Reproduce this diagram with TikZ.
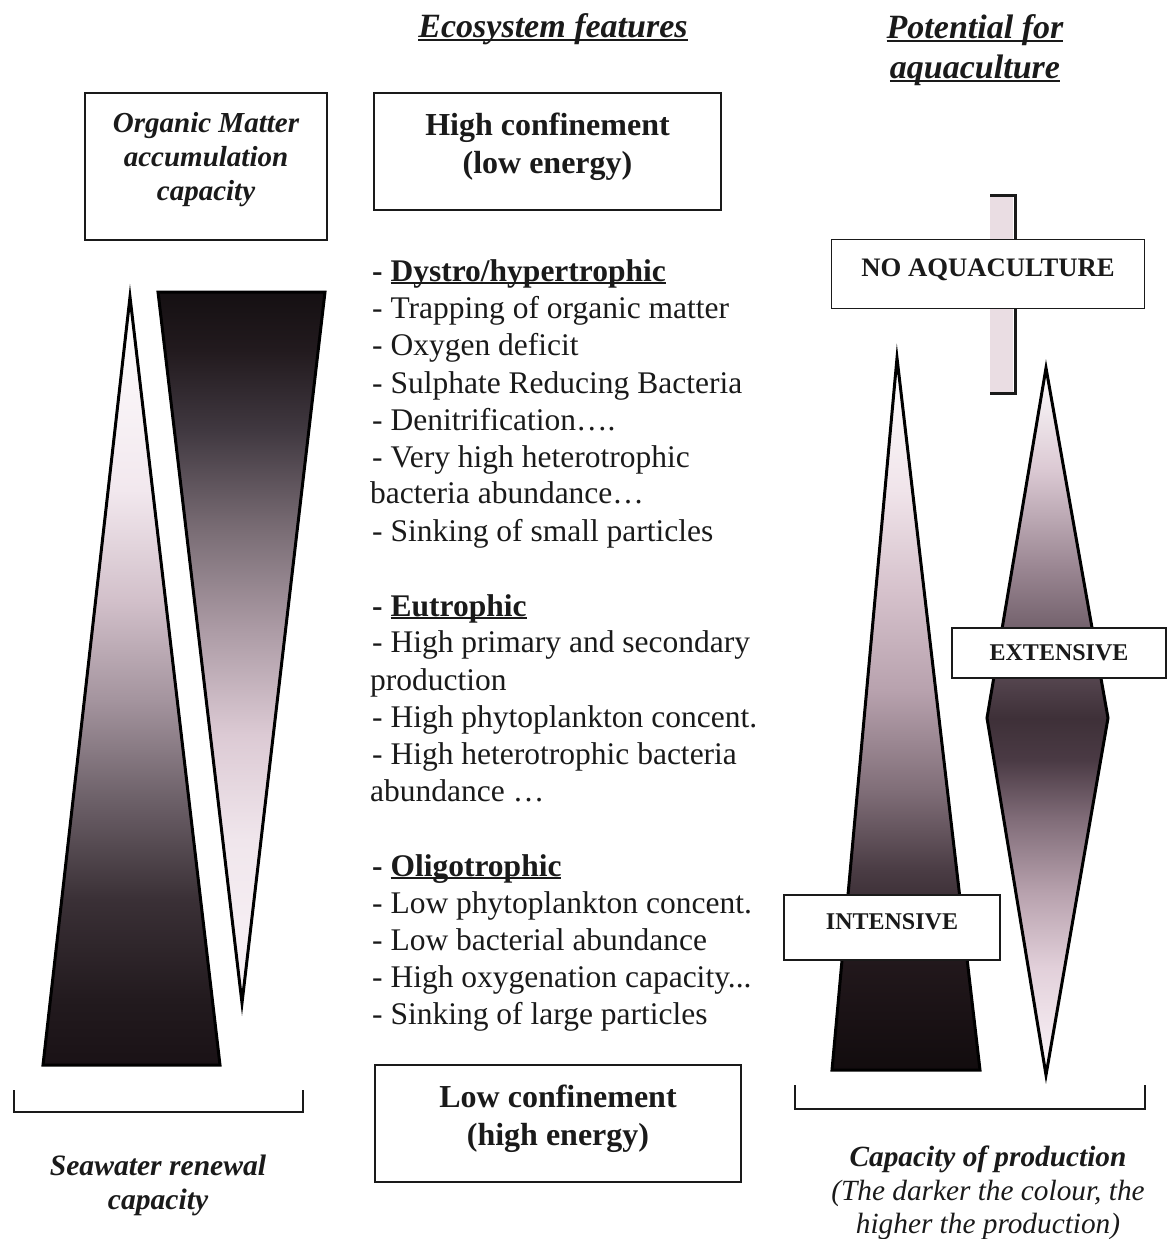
\documentclass[tikz,border=0pt]{standalone}
\usepackage{fontspec}
\setmainfont{Liberation Serif}
\newcommand{\myul}[1]{\setbox0\hbox{#1}\rlap{\rule[-0.11em]{\wd0}{0.065em}}\box0}
% colours
\definecolor{ink}{HTML}{1A1A1A}
\definecolor{strip}{HTML}{EADDE3}
% left up-triangle
\definecolor{a0}{HTML}{1A1216}\definecolor{a1}{HTML}{221A1E}\definecolor{a2}{HTML}{3A3036}
\definecolor{a3}{HTML}{6C6068}\definecolor{a4}{HTML}{A4949E}\definecolor{a5}{HTML}{D2C0CA}
\definecolor{a6}{HTML}{F2E8EE}\definecolor{a7}{HTML}{FFFFFF}
% left down-triangle
\definecolor{b0}{HTML}{FAF4F8}\definecolor{b1}{HTML}{F0E6EC}\definecolor{b2}{HTML}{DCCAD4}
\definecolor{b3}{HTML}{AD9CA6}\definecolor{b4}{HTML}{7A6D75}\definecolor{b5}{HTML}{403840}
\definecolor{b6}{HTML}{221A1E}\definecolor{b7}{HTML}{151012}
% intensive triangle
\definecolor{c0}{HTML}{120C0E}\definecolor{c1}{HTML}{22181C}\definecolor{c2}{HTML}{4A3C44}
\definecolor{c3}{HTML}{806E78}\definecolor{c4}{HTML}{B8A2AE}\definecolor{c5}{HTML}{D6C2CC}
\definecolor{c6}{HTML}{F0E4EA}\definecolor{c7}{HTML}{FFFFFF}
% extensive diamond
\definecolor{d0}{HTML}{FFFFFF}\definecolor{d1}{HTML}{F4EAF0}\definecolor{d2}{HTML}{E2D0DA}
\definecolor{d3}{HTML}{B8A2AE}\definecolor{d4}{HTML}{806C78}\definecolor{d5}{HTML}{4A3A44}
\definecolor{d6}{HTML}{3E3038}\definecolor{d7}{HTML}{5A4A54}\definecolor{d8}{HTML}{9A8692}
\definecolor{d9}{HTML}{DCCAD4}\definecolor{d10}{HTML}{FFFFFF}
\pgfdeclareverticalshading{shUpL}{100bp}{color(0bp)=(a0); color(25bp)=(a0); color(29.25bp)=(a1);
  color(35.75bp)=(a2); color(42.25bp)=(a3); color(48.75bp)=(a4); color(55.25bp)=(a5);
  color(62.45bp)=(a6); color(75bp)=(a7); color(100bp)=(a7)}
\pgfdeclareverticalshading{shDnL}{100bp}{color(0bp)=(b0); color(25bp)=(b0); color(36.45bp)=(b1);
  color(43.85bp)=(b2); color(51.1bp)=(b3); color(58.25bp)=(b4); color(65.3bp)=(b5);
  color(70.9bp)=(b6); color(75bp)=(b7); color(100bp)=(b7)}
\pgfdeclareverticalshading{shInt}{100bp}{color(0bp)=(c0); color(25bp)=(c0); color(32.7bp)=(c1);
  color(39.05bp)=(c2); color(44.65bp)=(c3); color(51.7bp)=(c4); color(58.7bp)=(c5);
  color(65.75bp)=(c6); color(75bp)=(c7); color(100bp)=(c7)}
\pgfdeclareverticalshading{shExt}{100bp}{color(0bp)=(d0); color(25bp)=(d0); color(27.5bp)=(d1);
  color(32.55bp)=(d2); color(37.85bp)=(d3); color(43.15bp)=(d4); color(47.3bp)=(d5);
  color(50.25bp)=(d6); color(53.8bp)=(d7); color(60.85bp)=(d8); color(67.95bp)=(d9);
  color(75bp)=(d10); color(100bp)=(d10)}
\begin{document}
\begin{tikzpicture}[x=1pt,y=-1pt,
  every node/.style={text=ink},
  boxed/.style={draw=ink, line width=1.4pt, fill=white, inner sep=0pt},
  boxtext/.style={align=center, inner sep=0pt},
  outl/.style={draw=black, line width=3pt, line join=miter, miter limit=25},
  listtxt/.style={anchor=base west, inner sep=0pt, font=\fontsize{31.5}{37.2}\selectfont},
  brk/.style={draw=ink, line width=2pt}]
\useasboundingbox (0,0) rectangle (1168,1239);
% ---- titles
\node[font=\fontsize{34}{40}\selectfont\bfseries\itshape] (t1) at (553,29) {\myul{Ecosystem features}};
\node[align=center, font=\fontsize{34}{40}\selectfont\bfseries\itshape] (t2) at (975,50)
  {\myul{Potential for}\\ \myul{aquaculture}};
% ---- left boxes
\node[boxed, minimum width=242pt, minimum height=147pt] (om) at (206,166.5) {};
\node[boxtext, font=\fontsize{29}{34}\selectfont\bfseries\itshape] (omt) at ([yshift=7pt]om.center)
  {Organic Matter\\ accumulation\\ capacity};
\node[boxed, minimum width=347pt, minimum height=117pt] (hc) at (547.5,151.5) {};
\node[boxtext, font=\fontsize{32}{38}\selectfont\bfseries] (hct) at ([yshift=5pt]hc.center)
  {High confinement\\ (low energy)};
\node[boxed, minimum width=366pt, minimum height=117pt] (lc) at (558,1123.5) {};
\node[boxtext, font=\fontsize{32}{38}\selectfont\bfseries] (lct) at ([yshift=5pt]lc.center)
  {Low confinement\\ (high energy)};
% ---- left triangles
\shade[shading=shUpL] (43,1065) -- (130,297) -- (220,1065) -- cycle;
\path[outl] (43,1065) -- (130,297) -- (220,1065) -- cycle;
\shade[shading=shDnL] (158,292) -- (325,292) -- (242,1003) -- cycle;
\path[outl] (158,292) -- (325,292) -- (242,1003) -- cycle;
% ---- left bracket
\coordinate (lb1) at (14,1090);
\coordinate (lb2) at (303,1090);
\draw[brk] (lb1) -- (14,1112) -- (303,1112) -- (lb2);
\node[align=center, font=\fontsize{29.6}{34}\selectfont\bfseries\itshape] (sw) at (158,1185)
  {Seawater renewal\\ capacity};
% ---- list
\node[listtxt] (l1) at (372,281) {\bfseries - \myul{Dystro/hypertrophic}};
\node[listtxt] (l2) at (372,318) {- Trapping of organic matter};
\node[listtxt] (l3) at (372,355) {- Oxygen deficit};
\node[listtxt] (l4) at (372,393) {- Sulphate Reducing Bacteria};
\node[listtxt] (l5) at (372,430) {- Denitrification….};
\node[listtxt] (l6) at (372,467) {- Very high heterotrophic};
\node[listtxt] (l7) at (370,503) {bacteria abundance…};
\node[listtxt] (l8) at (372,541) {- Sinking of small particles};
\node[listtxt] (l9) at (372,616) {\bfseries - \myul{Eutrophic}};
\node[listtxt] (l10) at (372,652) {- High primary and secondary};
\node[listtxt] (l11) at (370,690) {production};
\node[listtxt] (l12) at (372,727) {- High phytoplankton concent.};
\node[listtxt] (l13) at (372,764) {- High heterotrophic bacteria};
\node[listtxt] (l14) at (370,801) {abundance …};
\node[listtxt] (l15) at (372,876) {\bfseries - \myul{Oligotrophic}};
\node[listtxt] (l16) at (372,913) {- Low phytoplankton concent.};
\node[listtxt] (l17) at (372,950) {- Low bacterial abundance};
\node[listtxt] (l18) at (372,987) {- High oxygenation capacity...};
\node[listtxt] (l19) at (372,1024) {- Sinking of large particles};
% ---- right side: no-aquaculture bracket
\fill[strip] (990,195) rectangle (1013,393);
\coordinate (nb1) at (990,195);
\coordinate (nb2) at (990,393);
\draw[draw=ink, line width=3pt] (nb1) -- (1015,195) -- (1015,393) -- (nb2);
\node[boxed, minimum width=313pt, minimum height=69pt] (noaq) at (988,274) {};
\node[boxtext, font=\fontsize{26.7}{30}\selectfont\bfseries] (noaqt) at ([yshift=4pt]noaq.center)
  {NO AQUACULTURE};
% ---- intensive triangle
\shade[shading=shInt] (832,1070) -- (897,358) -- (980,1070) -- cycle;
\path[outl] (832,1070) -- (897,358) -- (980,1070) -- cycle;
% ---- extensive diamond
\shade[shading=shExt] (1046,368) -- (1108,718) -- (1046,1075) -- (987,718) -- cycle;
\path[outl] (1046,368) -- (1108,718) -- (1046,1075) -- (987,718) -- cycle;
% ---- labels
\node[boxed, minimum width=214pt, minimum height=50pt] (ext) at (1059,653) {};
\node[boxtext, font=\fontsize{24}{28}\selectfont\bfseries] (extt) at (ext.center) {EXTENSIVE};
\node[boxed, minimum width=216pt, minimum height=65pt] (int) at (892,927.5) {};
\node[boxtext, font=\fontsize{24}{28}\selectfont\bfseries] (intt) at ([yshift=6pt]int.center) {INTENSIVE};
% ---- right bracket
\coordinate (rb1) at (795,1085);
\coordinate (rb2) at (1145,1085);
\draw[brk] (rb1) -- (795,1109) -- (1145,1109) -- (rb2);
\node[align=center, font=\fontsize{29.3}{33.5}\selectfont\itshape] (cap) at (988,1193)
  {\textbf{Capacity of production}\\ (The darker the colour, the\\ higher the production)};
\end{tikzpicture}
\end{document}
